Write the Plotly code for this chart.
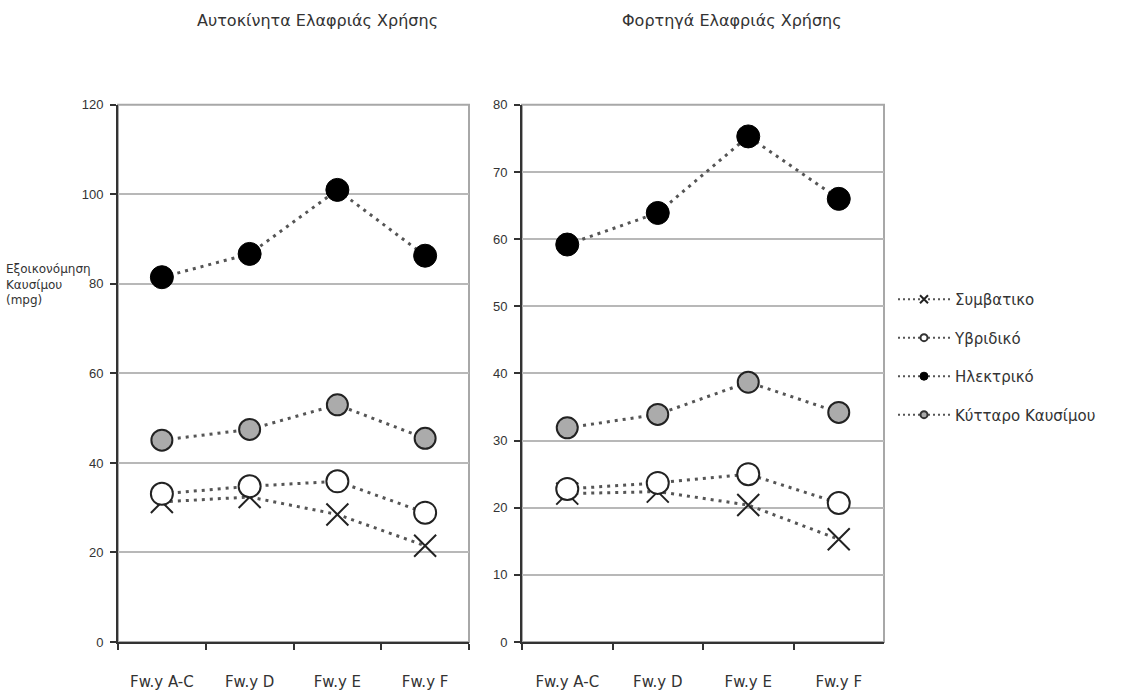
import plotly.graph_objects as go

categories = ["Fw.y A-C", "Fw.y D", "Fw.y E", "Fw.y F"]
series_names = ["Συμβατικο", "Υβριδικό", "Ηλεκτρικό", "Κύτταρο Καυσίμου"]

# Left panel: Αυτοκίνητα Ελαφριάς Χρήσης
cars_conventional = [31.3, 32.4, 28.5, 21.5]
cars_hybrid = [33.1, 34.8, 35.9, 28.9]
cars_electric = [81.5, 86.7, 101.0, 86.3]
cars_fuelcell = [45.1, 47.5, 53.0, 45.5]

# Right panel: Φορτηγά Ελαφριάς Χρήσης
trucks_conventional = [22.1, 22.4, 20.4, 15.3]
trucks_hybrid = [22.8, 23.7, 25.0, 20.7]
trucks_electric = [59.2, 63.9, 75.3, 66.0]
trucks_fuelcell = [31.9, 33.9, 38.7, 34.2]

left_ticks = [0, 20, 40, 60, 80, 100, 120]
right_ticks = [0, 10, 20, 30, 40, 50, 60, 70, 80]

WIDE = "DejaVu Sans, Verdana, sans-serif"
NARROW = "Liberation Sans, Arial, sans-serif"

LINE = dict(color="#555555", width=3, dash="3px,5px")
styles = [
    dict(symbol="x-thin", size=22, color="#222222", line=dict(color="#222222", width=2)),
    dict(symbol="circle", size=22, color="white", line=dict(color="#222222", width=2)),
    dict(symbol="circle", size=23, color="black", line=dict(color="black", width=1)),
    dict(symbol="circle", size=21, color="#ababab", line=dict(color="#222222", width=2)),
]
legend_styles = [
    dict(symbol="x-thin", size=8, color="#222222", line=dict(color="#222222", width=2)),
    dict(symbol="circle", size=7, color="white", line=dict(color="#333333", width=2)),
    dict(symbol="circle", size=8, color="black", line=dict(color="black", width=1)),
    dict(symbol="circle", size=7, color="#aaaaaa", line=dict(color="#333333", width=2)),
]

fig = go.Figure()
left_data = [cars_conventional, cars_hybrid, cars_electric, cars_fuelcell]
right_data = [trucks_conventional, trucks_hybrid, trucks_electric, trucks_fuelcell]

for name, vals, st in zip(series_names, left_data, styles):
    fig.add_trace(go.Scatter(x=categories, y=vals, mode="lines+markers", name=name,
                             line=LINE, marker=st, showlegend=False, xaxis="x", yaxis="y"))
for name, vals, st in zip(series_names, right_data, styles):
    fig.add_trace(go.Scatter(x=categories, y=vals, mode="lines+markers", name=name,
                             line=LINE, marker=st, showlegend=False, xaxis="x2", yaxis="y2"))
for i, (name, st) in enumerate(zip(series_names, legend_styles)):
    fig.add_trace(go.Scatter(x=[None], y=[None], mode="lines+markers", name=name,
                             line=dict(color="#555555", width=2, dash="2px,3px"), marker=st,
                             legendgroup=str(i), showlegend=True, xaxis="x2", yaxis="y2"))

W, H = 1121, 697
xd1 = [118 / W, 469 / W]
xd2 = [522 / W, 884 / W]
yd = [1 - 649 / H, 1 - 100 / H]

tickfont = dict(family=NARROW, size=13, color="#333333")
xcommon = dict(type="category", range=[-0.5, 3.5], tickson="boundaries", ticks="outside",
               ticklen=6, tickcolor="#333333", tickwidth=1.5, showline=True, linecolor="#333333",
               linewidth=2, showgrid=False, zeroline=False,
               tickfont=dict(family=WIDE, size=15, color="#333333"),
               ticklabelstandoff=25, fixedrange=True)
ycommon = dict(ticks="outside", ticklen=6, tickcolor="#333333", tickwidth=1.5, showline=True,
               linecolor="#333333", linewidth=2, showgrid=True, gridcolor="#b8b8b8", gridwidth=1.5,
               zeroline=False, tickfont=tickfont, ticklabelstandoff=4, fixedrange=True)

fig.update_layout(
    width=W, height=H,
    margin=dict(l=0, r=0, t=0, b=0),
    paper_bgcolor="white", plot_bgcolor="white",
    font=dict(family=NARROW, color="#333333"),
    xaxis=dict(xcommon, domain=xd1, anchor="y"),
    yaxis=dict(ycommon, domain=yd, anchor="x", range=[0, 120], tickvals=left_ticks),
    xaxis2=dict(xcommon, domain=xd2, anchor="y2"),
    yaxis2=dict(ycommon, domain=yd, anchor="x2", range=[0, 80], tickvals=right_ticks),
    legend=dict(x=893 / W, y=1 - 282 / H, xanchor="left", yanchor="top",
                font=dict(family=WIDE, size=15, color="#333333"),
                tracegroupgap=16, bgcolor="rgba(0,0,0,0)", itemwidth=52),
    showlegend=True,
    shapes=[
        dict(type="rect", xref="x domain", yref="y domain", x0=0, x1=1, y0=0, y1=1,
             line=dict(color="#a8a8a8", width=2), layer="below"),
        dict(type="rect", xref="x2 domain", yref="y2 domain", x0=0, x1=1, y0=0, y1=1,
             line=dict(color="#a8a8a8", width=2), layer="below"),
    ],
    annotations=[
        dict(text="Αυτοκίνητα Ελαφριάς Χρήσης", x=317 / W, y=1 - 14 / H, xref="paper", yref="paper",
             showarrow=False, font=dict(family=WIDE, size=16, color="#333333"),
             xanchor="center", yanchor="middle"),
        dict(text="Φορτηγά Ελαφριάς Χρήσης", x=732 / W, y=1 - 14 / H, xref="paper", yref="paper",
             showarrow=False, font=dict(family=WIDE, size=16, color="#333333"),
             xanchor="center", yanchor="middle"),
        dict(text="Εξοικονόμηση<br>Καυσίμου<br>(mpg)", x=4 / W, y=1 - 259 / H, xref="paper",
             yref="paper", showarrow=False, align="left", xanchor="left", yanchor="top",
             font=dict(family=WIDE, size=12, color="#333333")),
    ],
)

fig.write_html("out.html")
